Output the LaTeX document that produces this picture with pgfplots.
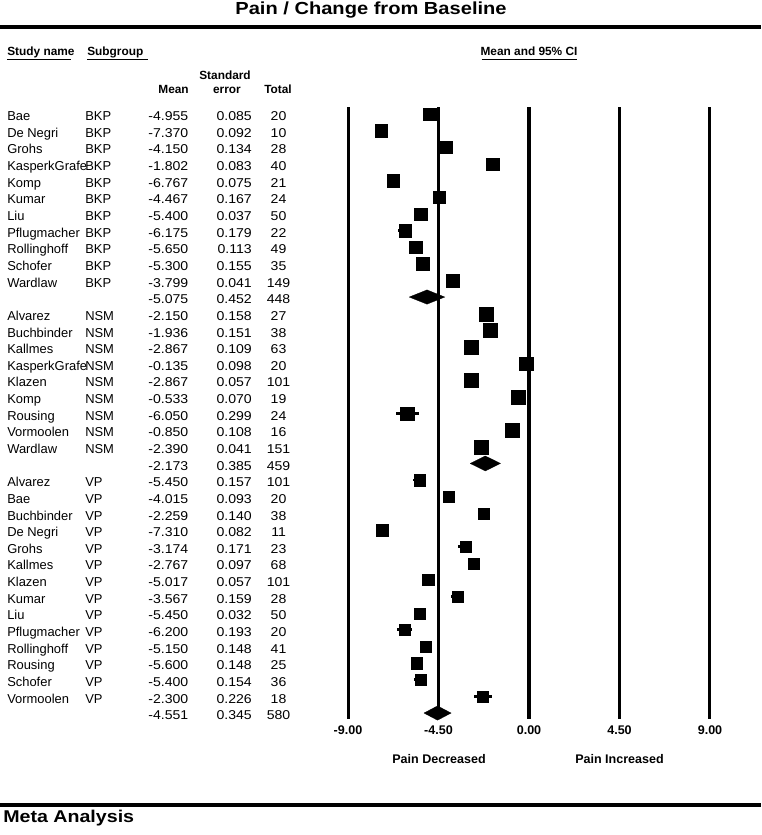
\documentclass[border=0pt]{standalone}
\usepackage{fontspec}
\setmainfont{Liberation Sans}
\newfontfamily\numfont{Liberation Sans}[FakeStretch=1.1]
\newfontfamily\titlefont{Liberation Sans}[FakeStretch=1.15]
\usepackage{pgfplots}
\usepackage{pgfplotstable}
\pgfplotsset{compat=1.18}

\pgfplotstableread[col sep=comma]{
row,name,sub,mean,se,total
0,Bae,BKP,-4.955,0.085,20
1,De Negri,BKP,-7.370,0.092,10
2,Grohs,BKP,-4.150,0.134,28
3,KasperkGrafe,BKP,-1.802,0.083,40
4,Komp,BKP,-6.767,0.075,21
5,Kumar,BKP,-4.467,0.167,24
6,Liu,BKP,-5.400,0.037,50
7,Pflugmacher,BKP,-6.175,0.179,22
8,Rollinghoff,BKP,-5.650,0.113,49
9,Schofer,BKP,-5.300,0.155,35
10,Wardlaw,BKP,-3.799,0.041,149
}\bkp

\pgfplotstableread[col sep=comma]{
row,name,sub,mean,se,total
12,Alvarez,NSM,-2.150,0.158,27
13,Buchbinder,NSM,-1.936,0.151,38
14,Kallmes,NSM,-2.867,0.109,63
15,KasperkGrafe,NSM,-0.135,0.098,20
16,Klazen,NSM,-2.867,0.057,101
17,Komp,NSM,-0.533,0.070,19
18,Rousing,NSM,-6.050,0.299,24
19,Vormoolen,NSM,-0.850,0.108,16
20,Wardlaw,NSM,-2.390,0.041,151
}\nsm

\pgfplotstableread[col sep=comma]{
row,name,sub,mean,se,total
22,Alvarez,VP,-5.450,0.157,101
23,Bae,VP,-4.015,0.093,20
24,Buchbinder,VP,-2.259,0.140,38
25,De Negri,VP,-7.310,0.082,11
26,Grohs,VP,-3.174,0.171,23
27,Kallmes,VP,-2.767,0.097,68
28,Klazen,VP,-5.017,0.057,101
29,Kumar,VP,-3.567,0.159,28
30,Liu,VP,-5.450,0.032,50
31,Pflugmacher,VP,-6.200,0.193,20
32,Rollinghoff,VP,-5.150,0.148,41
33,Rousing,VP,-5.600,0.148,25
34,Schofer,VP,-5.400,0.154,36
35,Vormoolen,VP,-2.300,0.226,18
}\vp

\pgfplotstableread[col sep=comma]{
row,mean,se,total
11,-5.075,0.452,448
21,-2.173,0.385,459
36,-4.551,0.345,580
}\summ

% table, column, x position, anchor, font
\newcommand{\textcol}[5]{%
  \addplot[draw=none, nodes near coords, point meta=explicit symbolic,
    every node near coord/.append style={anchor=#4, font=#5}]
    table[x expr=#3, y expr=\thisrow{row}+0.403, meta=#2] {#1};}

\newcommand{\studyplot}[2]{%
  \addplot[only marks, mark=square*, mark size=#2,
    mark options={fill=black, draw=black, line width=0.1pt},
    error bars/.cd, x dir=both, x explicit, error mark=none,
    error bar style={line width=2.1pt, black}]
    table[x=mean, y=row, x error expr=1.96*\thisrow{se}] {#1};}

\newcommand{\tf}{\fontsize{9.7}{11}\selectfont}
\newcommand{\nf}{\numfont\fontsize{9.6}{11}\selectfont}

\begin{document}
\begin{tikzpicture}
\begin{axis}[
  width=570.75pt, height=626.25pt, scale only axis,
  xmin=-26.3184, xmax=11.5423, ymin=-6.851, ymax=43.329, y dir=reverse,
  axis lines=none, clip=false,
  every node near coord/.append style={inner sep=0pt, text=black},
]
% reference lines
\addplot[black, line width=2.3pt] coordinates {(-9,-0.42) (-9,36.36)};
\addplot[black, line width=1.6pt] coordinates {(-4.5,-0.42) (-4.5,36.36)};
\addplot[black, line width=2.3pt] coordinates {(0,-0.42) (0,36.36)};
\addplot[black, line width=2.3pt] coordinates {(4.5,-0.42) (4.5,36.36)};
\addplot[black, line width=2.3pt] coordinates {(9,-0.42) (9,36.36)};

% study estimates
\studyplot{\bkp}{4.7pt}
\studyplot{\nsm}{5.2pt}
\studyplot{\vp}{4.2pt}

% summary diamonds
\addplot[fill=black, draw=black, line width=0.2pt] coordinates
  {(-5.961,11) (-5.075,10.57) (-4.189,11) (-5.075,11.43) (-5.961,11)};
\addplot[fill=black, draw=black, line width=0.2pt] coordinates
  {(-2.928,21) (-2.173,20.55) (-1.418,21) (-2.173,21.45) (-2.928,21)};
\addplot[fill=black, draw=black, line width=0.2pt] coordinates
  {(-5.227,36) (-4.551,35.57) (-3.875,36) (-4.551,36.43) (-5.227,36)};

% text columns
\textcol{\bkp}{name}{-25.97}{base west}{\tf}
\textcol{\bkp}{sub}{-22.09}{base west}{\tf}
\textcol{\bkp}{mean}{-16.94}{base east}{\nf}
\textcol{\bkp}{se}{-13.78}{base east}{\nf}
\textcol{\bkp}{total}{-12.46}{base}{\nf}
\textcol{\nsm}{name}{-25.97}{base west}{\tf}
\textcol{\nsm}{sub}{-22.09}{base west}{\tf}
\textcol{\nsm}{mean}{-16.94}{base east}{\nf}
\textcol{\nsm}{se}{-13.78}{base east}{\nf}
\textcol{\nsm}{total}{-12.46}{base}{\nf}
\textcol{\vp}{name}{-25.97}{base west}{\tf}
\textcol{\vp}{sub}{-22.09}{base west}{\tf}
\textcol{\vp}{mean}{-16.94}{base east}{\nf}
\textcol{\vp}{se}{-13.78}{base east}{\nf}
\textcol{\vp}{total}{-12.46}{base}{\nf}
\textcol{\summ}{mean}{-16.94}{base east}{\nf}
\textcol{\summ}{se}{-13.78}{base east}{\nf}
\textcol{\summ}{total}{-12.46}{base}{\nf}
\end{axis}

% decorations in pixel coordinates
\begin{scope}[x=0.75pt, y=-0.75pt, yshift=626.25pt]
  \path (0,0) rectangle (761,835);
  \node[anchor=base, inner sep=0pt] at (371,15)
    {\titlefont\bfseries\fontsize{13.1}{15}\selectfont Pain / Change from Baseline};
  \fill[black] (0,25) rectangle (761,29);
  \fill[black] (0,803) rectangle (761,807);
  \node[anchor=base west, inner sep=0pt] at (3,822.5)
    {\titlefont\bfseries\fontsize{12.8}{15}\selectfont Meta Analysis};

  \begin{scope}[every node/.style={inner sep=0pt, font=\bfseries\fontsize{8.9}{10}\selectfont}]
    \node[anchor=base west] at (7,55.5) {Study name};
    \node[anchor=base west] at (87,55.5) {Subgroup};
    \node[anchor=base] at (529,55.5) {Mean and 95\% CI};
    \node[anchor=base] at (225,80) {Standard};
    \node[anchor=base east] at (189,94) {Mean};
    \node[anchor=base] at (227,94) {error};
    \node[anchor=base] at (278,94) {Total};
  \end{scope}
  \draw[line width=0.8pt] (7,59.3) -- (71,59.3);
  \draw[line width=0.8pt] (87,59.3) -- (148,59.3);
  \draw[line width=0.8pt] (481.5,59.3) -- (577,59.3);

  \begin{scope}[every node/.style={inner sep=0pt, anchor=base, font=\bfseries\fontsize{9.4}{11}\selectfont}]
    \node at (348,735) {-9.00};
    \node at (438.5,735) {-4.50};
    \node at (529,735) {0.00};
    \node at (619.5,735) {4.50};
    \node at (710,735) {9.00};
    \node at (439,764) {Pain Decreased};
    \node at (619.5,764) {Pain Increased};
  \end{scope}
\end{scope}
\end{tikzpicture}
\end{document}
